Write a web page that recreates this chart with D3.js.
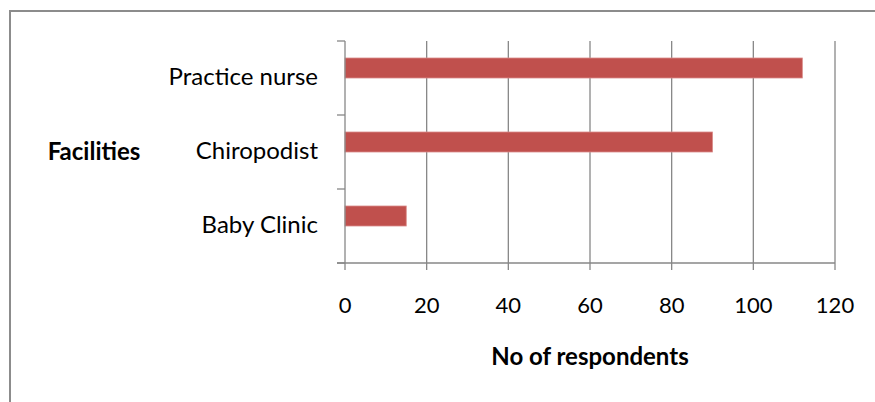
<!DOCTYPE html>
<html>
<head>
<meta charset="utf-8">
<script src="https://cdn.jsdelivr.net/npm/d3@7"></script>
<style>
  html, body { margin: 0; padding: 0; background: #fff; }
  svg { display: block; }
  text { font-family: Lato, "Open Sans", sans-serif; fill: #000; }
</style>
</head>
<body>
<svg id="chart" width="875" height="402"></svg>
<script>
const categories = ["Baby Clinic", "Chiropodist", "Practice nurse"];
const values = [15, 90, 112];
const xTicks = [0, 20, 40, 60, 80, 100, 120];
const xTitle = "No of respondents";
const yTitle = "Facilities";

const svg = d3.select("#chart");
const W = 875, H = 402;
const m = { left: 345, right: 40, top: 41, bottom: 139 };
const iw = W - m.left - m.right, ih = H - m.top - m.bottom;
const gray = "#878787";

// outer frame (cropped at right and bottom)
svg.append("rect").attr("x", 10).attr("y", 11).attr("width", 900).attr("height", 420)
  .attr("fill", "none").attr("stroke", "#8c8c8c").attr("stroke-width", 2);

const g = svg.append("g").attr("transform", `translate(${m.left},${m.top})`);

const x = d3.scaleLinear().domain([0, 120]).range([0, iw]);
// Excel draws first category at the bottom
const y = d3.scaleBand().domain(categories.slice().reverse()).range([0, ih]);
const sub = d3.scaleBand().domain(["s1", "s2"]).range([0, y.bandwidth()]).paddingOuter(0.85);

// gridlines
g.selectAll("line.grid").data(xTicks.slice(1)).join("line")
  .attr("class", "grid")
  .attr("x1", d => x(d)).attr("x2", d => x(d))
  .attr("y1", 0).attr("y2", ih)
  .attr("stroke", gray).attr("stroke-width", 1.3);

// bars
g.selectAll("rect.bar").data(categories).join("rect")
  .attr("class", "bar")
  .attr("x", x(0))
  .attr("y", d => y(d) + sub("s1"))
  .attr("width", (d, i) => x(values[i]) - x(0))
  .attr("height", sub.bandwidth())
  .attr("fill", "#C0504D")
  .attr("stroke", "#d98b89").attr("stroke-width", 0.8);

// y axis
const yAxisTicks = [0, 1, 2, 3].map(i => i * y.step());
g.append("line").attr("x1", 0).attr("x2", 0).attr("y1", 0).attr("y2", ih)
  .attr("stroke", gray).attr("stroke-width", 1.3);
g.selectAll("line.ytick").data(yAxisTicks).join("line")
  .attr("class", "ytick")
  .attr("x1", -8).attr("x2", 0).attr("y1", d => d).attr("y2", d => d)
  .attr("stroke", gray).attr("stroke-width", 1.3);

// x axis
g.append("line").attr("x1", -8).attr("x2", iw).attr("y1", ih).attr("y2", ih)
  .attr("stroke", gray).attr("stroke-width", 1.3);
g.selectAll("line.xtick").data(xTicks).join("line")
  .attr("class", "xtick")
  .attr("x1", d => x(d)).attr("x2", d => x(d)).attr("y1", ih).attr("y2", ih + 7)
  .attr("stroke", gray).attr("stroke-width", 1.3);

g.selectAll("text.xlab").data(xTicks).join("text")
  .attr("class", "xlab")
  .attr("x", d => x(d)).attr("y", ih + 50)
  .attr("text-anchor", "middle")
  .style("font-size", "22px")
  .text(d => d);

g.selectAll("text.ylab").data(categories).join("text")
  .attr("class", "ylab")
  .attr("x", -27).attr("y", d => y(d) + y.bandwidth() / 2 + 7)
  .attr("text-anchor", "end")
  .style("font-size", "24px")
  .text(d => d);

// titles
svg.append("text").attr("x", m.left + iw / 2).attr("y", 365)
  .attr("text-anchor", "middle").style("font-size", "24px").style("font-weight", "bold")
  .text(xTitle);
svg.append("text").attr("x", 94).attr("y", 160)
  .attr("text-anchor", "middle").style("font-size", "24px").style("font-weight", "bold")
  .text(yTitle);
</script>
</body>
</html>
